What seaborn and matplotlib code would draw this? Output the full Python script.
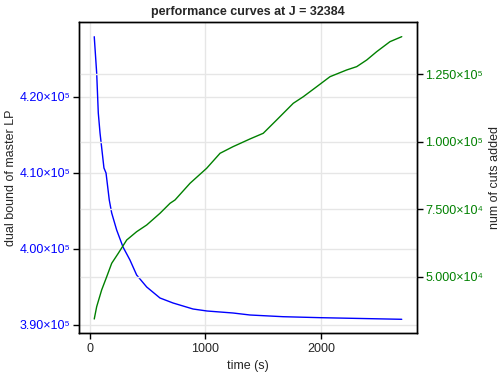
import numpy as np
import pandas as pd
import matplotlib
matplotlib.use("Agg")
import matplotlib.pyplot as plt
import seaborn as sns
from matplotlib.ticker import FixedLocator, FixedFormatter

# dual bound series
t_dual = [37, 58, 72, 87, 121, 139, 167, 188, 231, 286, 346, 404, 491, 606, 719,
          892, 1013, 1238, 1385, 1671, 2000, 2699]
dual = [427934, 423158, 417895, 415263, 410658, 410000, 406447, 404737, 402500,
        400263, 398553, 396579, 395000, 393553, 392895, 392105, 391842, 391579,
        391316, 391092, 390961, 390750]

# cuts series
t_cuts = [37, 58, 101, 145, 188, 245, 318, 404, 491, 606, 693, 736, 866, 1010,
          1126, 1238, 1385, 1500, 1616, 1760, 1847, 1963, 2078, 2222, 2309, 2396,
          2482, 2597, 2699]
cuts = [34481, 39026, 45196, 50111, 55062, 58757, 63672, 66738, 69214, 73537,
        77231, 78452, 84620, 90165, 95707, 98146, 101000, 103098, 108012, 114183,
        116622, 120317, 124012, 126487, 127718, 130183, 133250, 136946, 138794]

x_ticks = [0, 1000, 2000]
x_ticklabels = ["0", "1000", "2000"]
left_ticks = [390000, 400000, 410000, 420000]
left_ticklabels = ["3.90×10⁵", "4.00×10⁵", "4.10×10⁵", "4.20×10⁵"]
right_ticks = [50000, 75000, 100000, 125000]
right_ticklabels = ["5.000×10⁴", "7.500×10⁴", "1.000×10⁵", "1.250×10⁵"]

sns.set_style("white")
plt.rcParams['font.family'] = ['Liberation Sans', 'DejaVu Sans']

fig = plt.figure(figsize=(5.02, 3.75), dpi=100)
ax = fig.add_axes([79/502, 42/375, (417-79)/502, (333-22)/375])
ax2 = ax.twinx()

df1 = pd.DataFrame({"t": t_dual, "v": dual})
df2 = pd.DataFrame({"t": t_cuts, "v": cuts})
sns.lineplot(data=df1, x="t", y="v", ax=ax, color="blue", linewidth=1.0)
sns.lineplot(data=df2, x="t", y="v", ax=ax2, color="green", linewidth=1.0)

ax.set_xlim(-95, 2831)
ax.set_ylim(388947, 429868)
ax2.set_ylim(29310, 144212)

gridc = "#e6e6e6"
ax.set_axisbelow(True)
ax.xaxis.set_major_locator(FixedLocator(x_ticks))
ax.xaxis.set_major_formatter(FixedFormatter(x_ticklabels))
ax.yaxis.set_major_locator(FixedLocator(left_ticks))
ax.yaxis.set_major_formatter(FixedFormatter(left_ticklabels))
ax2.yaxis.set_major_locator(FixedLocator(right_ticks))
ax2.yaxis.set_major_formatter(FixedFormatter(right_ticklabels))

ax.grid(True, color=gridc, linewidth=1.0)
# right-axis gridlines drawn on the main axis
for v in right_ticks:
    ax2.axhline(v, color=gridc, linewidth=1.0, zorder=0)
ax2.set_zorder(ax.get_zorder() + 1)
ax2.patch.set_visible(False)

fs = 9
ax.tick_params(axis="x", direction="out", length=4, width=1, pad=3, labelsize=fs, bottom=True, color="black")
ax.tick_params(axis="y", direction="out", length=4, width=1, pad=2, labelsize=fs, left=True, labelcolor="blue", color="black")
ax2.tick_params(axis="y", direction="out", length=4, width=1, pad=2, labelsize=fs, right=True, labelcolor="green", color="black")

for a in (ax, ax2):
    for s in a.spines.values():
        s.set_color("black")
        s.set_linewidth(1.0)

ax.set_xlabel("time (s)", fontsize=fs, labelpad=4)
ax.set_ylabel("dual bound of master LP", fontsize=fs)
ax2.set_ylabel("num of cuts added", fontsize=fs, rotation=90)
ax.yaxis.set_label_coords((17 - 79) / 338, 0.5)
ax2.yaxis.set_label_coords((489 - 79) / 338, 0.5)
ax.set_title("performance curves at J = 32384", fontsize=fs, fontweight="bold", pad=5)

fig.savefig("out.png", dpi=100)
